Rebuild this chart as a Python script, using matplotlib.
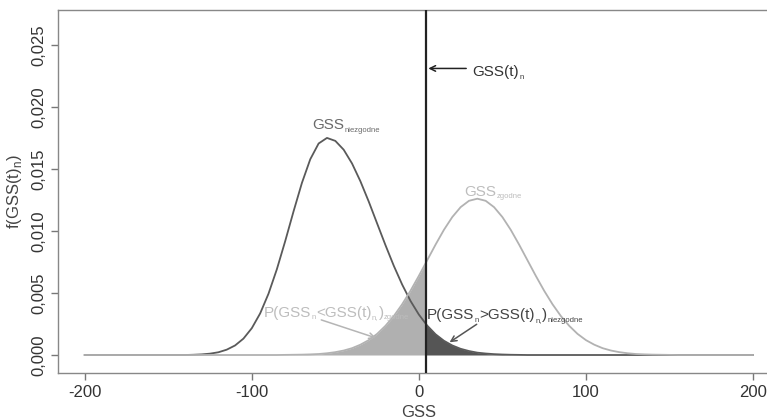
import matplotlib
matplotlib.use('Agg')
import matplotlib.pyplot as plt
from matplotlib.patches import Rectangle
import numpy as np

plt.rcParams['font.family'] = ['Liberation Sans', 'DejaVu Sans']

# Values (density every 5 units of GSS)
gss = np.arange(-200, 201, 5)
f_niezgodne = [0] * 13 + [
    0.00002, 0.00005, 0.00011, 0.00022, 0.00043, 0.00077, 0.00132, 0.00216,
    0.00335, 0.00494, 0.00691, 0.00918, 0.01158, 0.01387, 0.01578, 0.01705,
    0.01750, 0.01726, 0.01655, 0.01544, 0.01401, 0.01237, 0.01061, 0.00886,
    0.00719, 0.00568, 0.00436, 0.00326, 0.00237, 0.00167, 0.00115, 0.00077,
    0.00050, 0.00032, 0.00019, 0.00012, 0.00007, 0.00004, 0.00002, 0.00001,
] + [0] * 28
f_zgodne = [0] * 24 + [
    0.00001, 0.00002, 0.00003, 0.00005, 0.00008, 0.00014, 0.00023, 0.00036,
    0.00055, 0.00083, 0.00120, 0.00170, 0.00235, 0.00314, 0.00409, 0.00518,
    0.00638, 0.00764, 0.00890, 0.01009, 0.01112, 0.01192, 0.01243, 0.01260,
    0.01243, 0.01192, 0.01112, 0.01009, 0.00890, 0.00764, 0.00638, 0.00518,
    0.00409, 0.00314, 0.00235, 0.00170, 0.00120, 0.00083, 0.00055, 0.00036,
    0.00023, 0.00014, 0.00008, 0.00005, 0.00003, 0.00002, 0.00001,
] + [0] * 10
gss_t = 4          # observed GSS(t)_n
x_ticks = [-200, -100, 0, 100, 200]
y_ticks = [0.000, 0.005, 0.010, 0.015, 0.020, 0.025]

dark = '#5a5a5a'
light = '#b2b2b2'

fig = plt.figure(figsize=(7.67, 4.19), dpi=100)
ax = fig.add_axes([0.0756, 0.1098, 0.941, 0.866])
ax.set_xlim(-216, 216)
ax.set_ylim(-0.00145, 0.0278)

# Shaded tail areas, clipped at the observed value
left_fill = ax.fill_between(gss, 0, f_zgodne, color='#b0b0b0', lw=0, zorder=1)
left_fill.set_clip_path(Rectangle((-300, -1), gss_t + 300, 2, transform=ax.transData))
right_fill = ax.fill_between(gss, 0, f_niezgodne, color='#555555', lw=0, zorder=1)
right_fill.set_clip_path(Rectangle((gss_t, -1), 300, 2, transform=ax.transData))

# Density curves
ax.plot(gss, f_niezgodne, color=dark, lw=1.3, zorder=2)
ax.plot(gss, f_zgodne, color=light, lw=1.3, zorder=3)

# Observed value
ax.axvline(gss_t, color='#222222', lw=1.6, zorder=4)


def chain(x, y, parts, color, size=11, subsize=5.5):
    """Write text pieces one after another, small pieces as subscripts."""
    t = ax.text(x, y, parts[0], color=color, fontsize=size, va='baseline', ha='left')
    for i, s in enumerate(parts[1:]):
        sub = (i % 2 == 0)
        t = ax.annotate(s, xy=(1, y), xycoords=(t, 'data'),
                        xytext=(0.3, -2.0 if sub else 0), textcoords='offset points',
                        color=color, fontsize=subsize if sub else size,
                        va='baseline', ha='left')
    return t


chain(-64, 0.0182, ['GSS', 'niezgodne'], '#6a6a6a')
chain(27, 0.01285, ['GSS', 'zgodne'], '#bdbdbd')

# GSS(t)_n with arrow
chain(32, 0.0225, ['GSS(t)', 'n'], '#333333')
ax.annotate('', xy=(gss_t, 0.0231), xytext=(30, 0.0231),
            arrowprops=dict(arrowstyle='->', color='#222222', lw=1.1))

# P(GSS_n < GSS(t)_n)_zgodne
chain(-93, 0.0031, ['P(GSS', 'n', '<GSS(t)', 'n,', ')', 'zgodne'], '#bdbdbd')
ax.annotate('', xy=(-24, 0.0013), xytext=(-60, 0.0029),
            arrowprops=dict(arrowstyle='->', color='#b5b5b5', lw=1.1))

# P(GSS_n > GSS(t)_n)_niezgodne
chain(5, 0.0029, ['P(GSS', 'n', '>GSS(t)', 'n,', ')', 'niezgodne'], '#444444')
ax.annotate('', xy=(17, 0.0009), xytext=(36, 0.0026),
            arrowprops=dict(arrowstyle='->', color='#555555', lw=1.1))

# Axes styling (R-like)
ax.set_xticks(x_ticks)
ax.set_xticklabels([str(v) for v in x_ticks])
ax.set_yticks(y_ticks)
ax.set_yticklabels(['{:.3f}'.format(v).replace('.', ',') for v in y_ticks],
                   rotation=90, va='center')
ax.tick_params(colors='#777777', labelcolor='#333333', labelsize=12,
               length=5, width=1, direction='out')
for s in ax.spines.values():
    s.set_color('#888888')
    s.set_linewidth(1)

ax.set_xlabel('GSS', fontsize=12, color='#444444', labelpad=4)
ax.set_ylabel(r'f(GSS(t)$_{\mathregular{n}}$)', fontsize=12, color='#444444', labelpad=5)

plt.savefig('out.png', dpi=100)
plt.close('all')
